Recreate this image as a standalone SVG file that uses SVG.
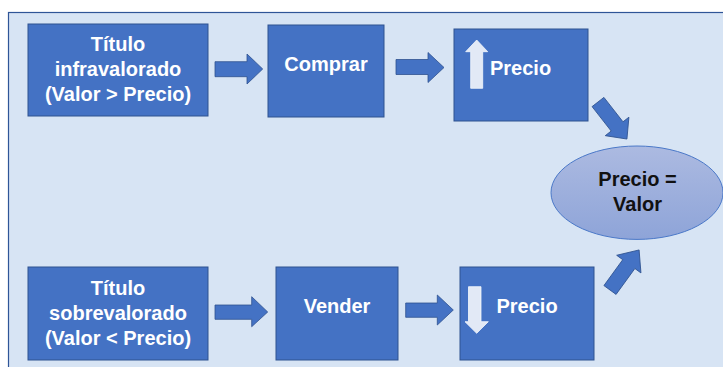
<svg xmlns="http://www.w3.org/2000/svg" width="723" height="367" viewBox="0 0 723 367">
<defs>
<style>
.box{fill:#4472c4;stroke:#2f528f;stroke-width:1}
.arr{fill:#4472c4;stroke:#2f528f;stroke-width:0.8}
.small{fill:#e2e9f6;stroke:#f4f7fc;stroke-width:0.8}
.t{font-family:"Liberation Sans",Arial,sans-serif;font-weight:bold;font-size:20px;fill:#ffffff;text-anchor:middle}
.tl{font-family:"Liberation Sans",Arial,sans-serif;font-weight:bold;font-size:20px;fill:#ffffff}
.tk{font-family:"Liberation Sans",Arial,sans-serif;font-weight:bold;font-size:20px;fill:#111111;text-anchor:middle}
</style>
<linearGradient id="eg" x1="0" y1="0" x2="0" y2="1">
<stop offset="0" stop-color="#acbae1"/>
<stop offset="1" stop-color="#8ea4d8"/>
</linearGradient>
</defs>
<rect x="0" y="0" width="723" height="367" fill="#ffffff"/>
<rect x="8.5" y="12.5" width="720" height="360" fill="#d7e4f4" stroke="#2f5597" stroke-width="1.2"/>

<g id="connectors">
<polygon class="arr" points="215,61.7 247,61.7 247,54 262.7,69 247,84 247,76.7 215,76.7"/>
<polygon class="arr" points="396,59.5 428,59.5 428,52.5 444,67.5 428,82.5 428,74.5 396,74.5"/>
<polygon class="arr" points="215,305 251.7,305 251.7,296.7 267.7,312 251.7,326.7 251.7,319.3 215,319.3"/>
<polygon class="arr" points="405.7,303 437.3,303 437.3,295 453.3,310 437.3,325 437.3,317.3 405.7,317.3"/>
<polygon class="arr" transform="translate(598,102) rotate(52)" points="0,-7.5 31,-7.5 31,-15 47,0 31,15 31,7.5 0,7.5"/>
<polygon class="arr" transform="translate(610,290) rotate(-54)" points="0,-7.5 32,-7.5 32,-15 49.5,0 32,15 32,7.5 0,7.5"/>
</g>

<g id="n1">
<rect class="box" x="28" y="24" width="180" height="92"/>
<text class="t" x="118" y="50.5">Título</text>
<text class="t" x="118" y="75.5">infravalorado</text>
<text class="t" x="118" y="100.5">(Valor &gt; Precio)</text>
</g>

<g id="n2">
<rect class="box" x="268" y="25" width="116" height="92"/>
<text class="t" x="326" y="71">Comprar</text>
</g>

<g id="n3">
<rect class="box" x="454" y="29" width="134" height="92"/>
<polygon class="small" points="470.7,88.3 470.7,51.7 465.7,51.7 476.7,40 487.7,51.7 482.7,51.7 482.7,88.3"/>
<text class="tl" x="490" y="75">Precio</text>
</g>

<g id="n4">
<rect class="box" x="28" y="267" width="180" height="93"/>
<text class="t" x="118" y="295">Título</text>
<text class="t" x="118" y="320">sobrevalorado</text>
<text class="t" x="118" y="345">(Valor &lt; Precio)</text>
</g>

<g id="n5">
<rect class="box" x="276" y="267" width="122" height="93"/>
<text class="t" x="337" y="313">Vender</text>
</g>

<g id="n6">
<rect class="box" x="460" y="267" width="134" height="93"/>
<polygon class="small" points="468.5,286.7 481,286.7 481,321.7 488.3,321.7 476.7,333.3 465,321.7 468.5,321.7"/>
<text class="tl" x="496.5" y="313.3">Precio</text>
</g>

<g id="n7">
<ellipse cx="637" cy="192.7" rx="86" ry="46.7" fill="url(#eg)" stroke="#4a78c8" stroke-width="1"/>
<text class="tk" x="637.5" y="185.5">Precio =</text>
<text class="tk" x="637.5" y="211">Valor</text>
</g>
</svg>
